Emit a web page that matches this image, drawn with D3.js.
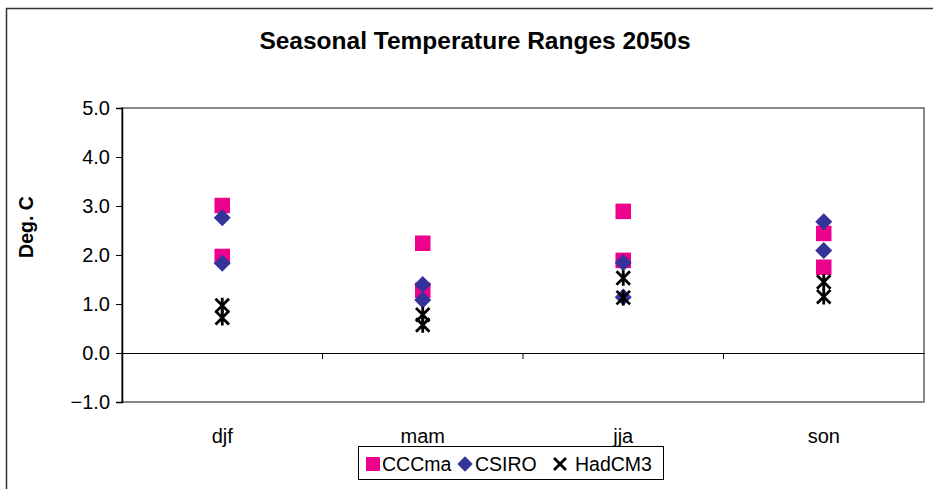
<!DOCTYPE html>
<html>
<head>
<meta charset="utf-8">
<script src="https://cdn.jsdelivr.net/npm/d3@7"></script>
<style>
  body { margin: 0; background: #fff; }
  svg text { font-family: "Liberation Sans", Arial, sans-serif; }
</style>
</head>
<body>
<svg id="chart" width="933" height="489"></svg>
<script>
const seasons = ['djf', 'mam', 'jja', 'son'];
const yTicks = [-1, 0, 1, 2, 3, 4, 5];

// two values per season for each model
const cccma = [[3.01, 1.97], [2.24, 1.28], [2.89, 1.89], [2.44, 1.75]];
const csiro = [[2.76, 1.83], [1.40, 1.08], [1.84, 1.14], [2.68, 2.09]];
const hadcm3 = [[0.97, 0.72], [0.78, 0.57], [1.53, 1.13], [1.45, 1.15]];

const seriesNames = ['CCCma', 'CSIRO', 'HadCM3'];
const seriesVals = [cccma, csiro, hadcm3];
const colors = ['#ec008c', '#333399', '#000000'];

const margin = {left: 122, right: 9, top: 108, bottom: 87};
const W = 933, H = 489;

const svg = d3.select('#chart');

// outer chart frame
svg.append('rect')
  .attr('x', 6.5).attr('y', 8.5)
  .attr('width', 940).attr('height', 500)
  .attr('fill', 'none').attr('stroke', '#333').attr('stroke-width', 1.5);

svg.append('text')
  .attr('x', 475).attr('y', 49)
  .attr('text-anchor', 'middle')
  .attr('font-size', 24.5).attr('font-weight', 'bold')
  .text('Seasonal Temperature Ranges 2050s');

const x = d3.scaleBand()
  .domain(seasons)
  .range([margin.left, W - margin.right]);

const y = d3.scaleLinear()
  .domain([-1, 5])
  .range([H - margin.bottom, margin.top]);

// plot border (gray)
svg.append('rect')
  .attr('x', margin.left).attr('y', margin.top)
  .attr('width', W - margin.right - margin.left)
  .attr('height', H - margin.bottom - margin.top)
  .attr('fill', 'none').attr('stroke', '#888').attr('stroke-width', 2);

// y axis
const yAxis = svg.append('g')
  .attr('transform', `translate(${margin.left},0)`)
  .call(d3.axisLeft(y).tickValues(yTicks).tickFormat(d3.format('.1f')).tickSize(6).tickPadding(6));
yAxis.select('.domain').attr('stroke', '#000').attr('stroke-width', 1.5);
yAxis.selectAll('.tick line').attr('stroke', '#000');
yAxis.selectAll('text').attr('font-size', 20).attr('fill', '#000');

// zero line with category ticks
const xAxis = svg.append('g')
  .attr('transform', `translate(0,${y(0)})`)
  .call(d3.axisBottom(x).tickSize(0).tickFormat(''));
xAxis.select('.domain').attr('stroke', '#000').attr('stroke-width', 1.2);
xAxis.selectAll('.tick').remove();
xAxis.selectAll('.sep')
  .data(seasons.slice(1))
  .join('line')
  .attr('x1', d => x(d)).attr('x2', d => x(d))
  .attr('y1', 0).attr('y2', 6)
  .attr('stroke', '#000');

// category labels
svg.selectAll('.cat')
  .data(seasons)
  .join('text')
  .attr('class', 'cat')
  .attr('x', d => x(d) + x.bandwidth() / 2)
  .attr('y', 443)
  .attr('text-anchor', 'middle')
  .attr('font-size', 20)
  .text(d => d);

svg.append('text')
  .attr('transform', `translate(33,227) rotate(-90)`)
  .attr('text-anchor', 'middle')
  .attr('font-size', 19.5).attr('font-weight', 'bold')
  .text('Deg. C');

const drawMarker = (g, k, cx, cy, s, legend) => {
  if (k === 0) {
    g.append('rect').attr('x', cx - s / 2).attr('y', cy - s / 2)
      .attr('width', s).attr('height', s).attr('fill', colors[0]);
  } else if (k === 1) {
    const r = s * 0.55;
    g.append('path')
      .attr('d', `M${cx},${cy - r}L${cx + r},${cy}L${cx},${cy + r}L${cx - r},${cy}Z`)
      .attr('fill', colors[1]);
  } else {
    const h = s / 2 - 1;
    let d = `M${cx - h},${cy - h}L${cx + h},${cy + h}M${cx + h},${cy - h}L${cx - h},${cy + h}`;
    if (!legend) d += `M${cx},${cy - h - 1}L${cx},${cy + h + 1}`;
    g.append('path')
      .attr('d', d)
      .attr('stroke', colors[2]).attr('stroke-width', 2.8).attr('fill', 'none');
  }
};

const pts = svg.append('g');
seriesVals.forEach((vals, k) => {
  seasons.forEach((s, i) => {
    vals[i].forEach(v => {
      drawMarker(pts, k, x(s) + x.bandwidth() / 2, y(v), 15.5, false);
    });
  });
});

// legend
const lg = svg.append('g');
lg.append('rect')
  .attr('x', 358.5).attr('y', 446.5).attr('width', 305).attr('height', 33)
  .attr('fill', '#fff').attr('stroke', '#000').attr('stroke-width', 1);
const legendX = [[373, 382], [465, 475], [560, 575]];
seriesNames.forEach((n, k) => {
  drawMarker(lg, k, legendX[k][0], 464, 14, true);
  lg.append('text')
    .attr('x', legendX[k][1]).attr('y', 471)
    .attr('font-size', 19.5)
    .text(n);
});
</script>
</body>
</html>
